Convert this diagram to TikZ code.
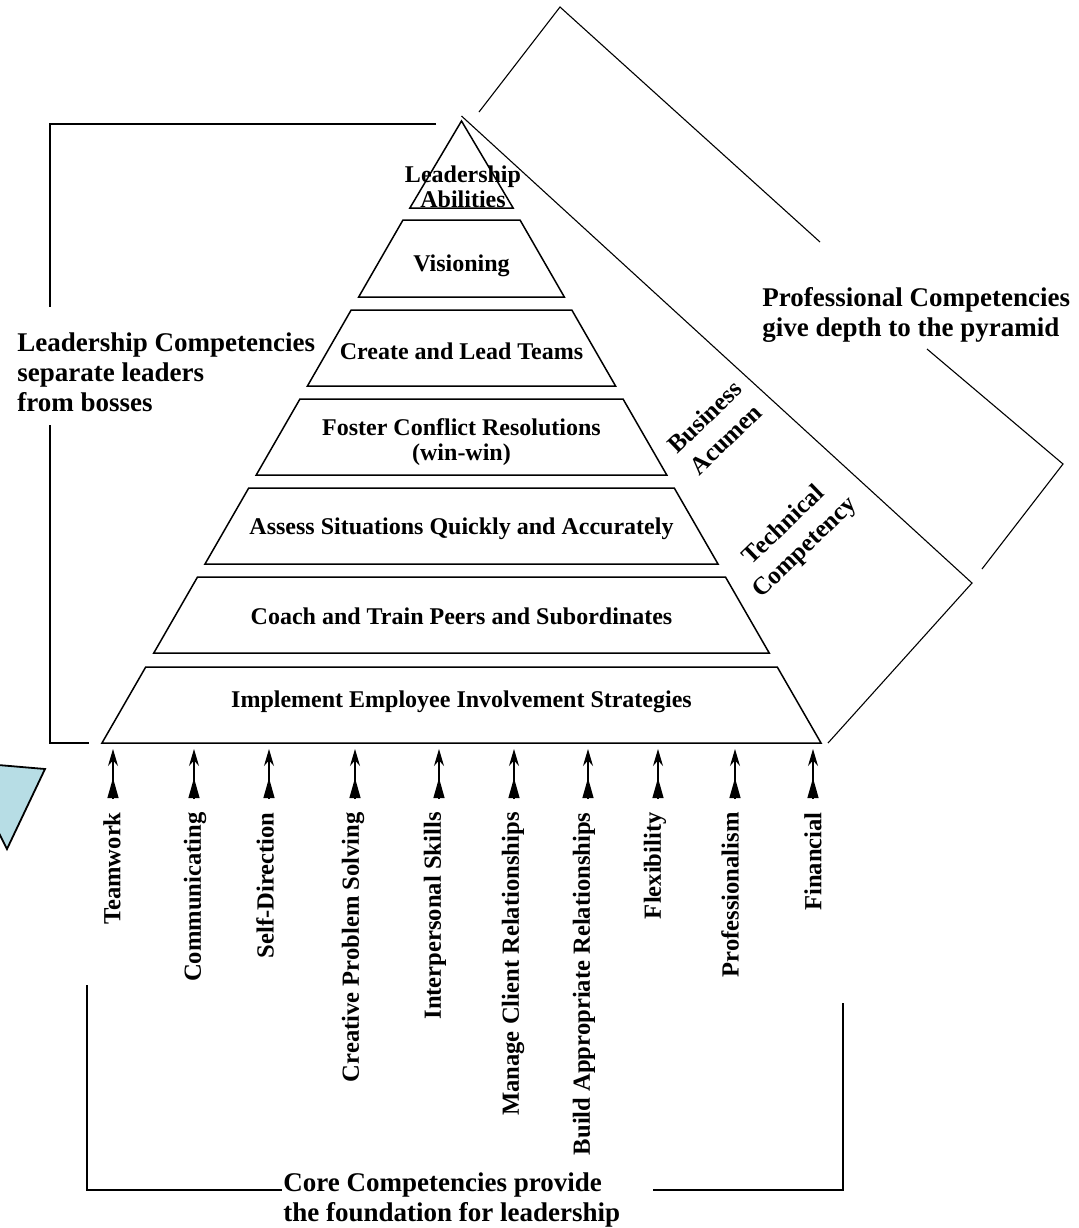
\documentclass[tikz,border=0pt]{standalone}
\usepackage{fontspec}
\setmainfont{Liberation Serif}
\usepackage{tikz}
\usetikzlibrary{arrows.meta}
\usetikzlibrary{decorations.markings}
\usetikzlibrary{positioning}
\definecolor{paleblue}{RGB}{183,221,229}
\tikzstyle{slab}=[draw, line width=0.75pt]
\tikzstyle{frame}=[line width=0.55pt]
\tikzstyle{lvl}=[font=\bfseries\fontsize{12}{12.5}\selectfont, align=center, inner sep=0pt]
\tikzstyle{side}=[font=\bfseries\fontsize{13.5}{15}\selectfont, align=left, inner sep=0pt, anchor=north west]
\tikzstyle{corelbl}=[font=\bfseries\fontsize{12.3}{14}\selectfont, rotate=90, anchor=east, inner sep=0pt]
\tikzstyle{dep}=[font=\bfseries\fontsize{12.5}{15.5}\selectfont, align=center, rotate=44, inner sep=0pt]
\tikzstyle{up}=[line width=0.6pt, -{Stealth[length=8.5pt,width=5pt]},
  postaction={decorate, decoration={markings, mark=at position 10.5pt with {\arrow{Triangle[length=10pt,width=5.5pt]}}}}]
\def\hw#1{0.5755*(#1-118.3)}

\begin{document}
\begin{tikzpicture}[x=0.5pt, y=-0.5pt]
    %\draw [help lines] (0,0) grid (1079,1228);
    \useasboundingbox (0,0) rectangle (1079,1228);

    \filldraw [fill=paleblue, line width=0.9pt] (-37,762) -- (45,769) -- (7,849) -- cycle;

    % pyramid
    \draw [slab] (461.5,121) -- ({461.5+\hw{208}},208) -- ({461.5-\hw{208}},208) -- cycle;
    \foreach \t/\b in {220/297, 310/386, 399/475, 488/564, 577/653, 667/743}
      \draw [slab] ({461.5-\hw{\t}},\t) -- ({461.5+\hw{\t}},\t) -- ({461.5+\hw{\b}},\b) -- ({461.5-\hw{\b}},\b) -- cycle;

    \node [lvl] (abil) at (463,187) {Leadership\\Abilities};
    \node [lvl] (vis)  at (461.5,266) {Visioning};
    \node [lvl] (team) at (461.5,351) {Create and Lead Teams};
    \node [lvl] (conf) at (461.5,442) {Foster Conflict Resolutions\\(win-win)};
    \node [lvl] (sit)  at (461.5,529) {Assess Situations Quickly and Accurately};
    \node [lvl] (coach) at (461.5,616) {Coach and Train Peers and Subordinates};
    \node [lvl] (impl) at (461.5,702) {Implement Employee Involvement Strategies};

    \node [dep] (bus)  at (715,428) {Business\\Acumen};
    \node [dep] (tech) at (795,537) {Technical\\Competency};

    \node [side] (lead) at (17,332) {Leadership Competencies\\separate leaders\\from bosses};
    \node [side] (prof) at (762,287) {Professional Competencies\\give depth to the pyramid};
    \node [side] (core) at (283,1172) {Core Competencies provide\\the foundation for leadership};

    % core competencies
    \foreach \x/\lx/\n/\txt in {113/112/tw/Teamwork, 194/195/com/Communicating, 269/265/sd/Self-Direction,
        355/353/cps/Creative Problem Solving, 439/435/ips/Interpersonal Skills,
        514/513/mcr/Manage Client Relationships, 588/584/bar/Build Appropriate Relationships,
        658/655/flx/Flexibility, 735/730/pro/Professionalism, 813/813/fin/Financial}
    {
      \coordinate (s\n) at (\x,799);
      \coordinate (e\n) at (\x,749);
      \draw [up] (s\n) -- (e\n);
      \node [corelbl] (\n) at (\lx,812) {\txt};
    }

    % brackets
    \coordinate (la) at (436,124);
    \coordinate (lb) at (50,124);
    \coordinate (lc) at (50,307);
    \coordinate (ld) at (50,425);
    \coordinate (le) at (50,743);
    \coordinate (lf) at (89,743);
    \draw [frame] (la) -- (lb) -- (lc);
    \draw [frame] (ld) -- (le) -- (lf);

    \coordinate (pa) at (479,112);
    \coordinate (pb) at (560,7);
    \coordinate (pc) at (820,242);
    \coordinate (pd) at (927,349);
    \coordinate (pe) at (1063,464);
    \coordinate (pf) at (982,569);
    \draw [frame] (pa) -- (pb) -- (pc);
    \draw [frame] (pd) -- (pe) -- (pf);

    \coordinate (da) at (461.5,116);
    \coordinate (db) at (972,583);
    \coordinate (dc) at (828,743);
    \draw [frame] (da) -- (db) -- (dc);

    \coordinate (ba) at (87,985);
    \coordinate (bb) at (87,1190);
    \coordinate (bc) at (282,1190);
    \coordinate (bd) at (653,1190);
    \coordinate (be) at (843,1190);
    \coordinate (bf) at (843,1003);
    \draw [frame] (ba) -- (bb) -- (bc);
    \draw [frame] (bd) -- (be) -- (bf);

\end{tikzpicture}
\end{document}
